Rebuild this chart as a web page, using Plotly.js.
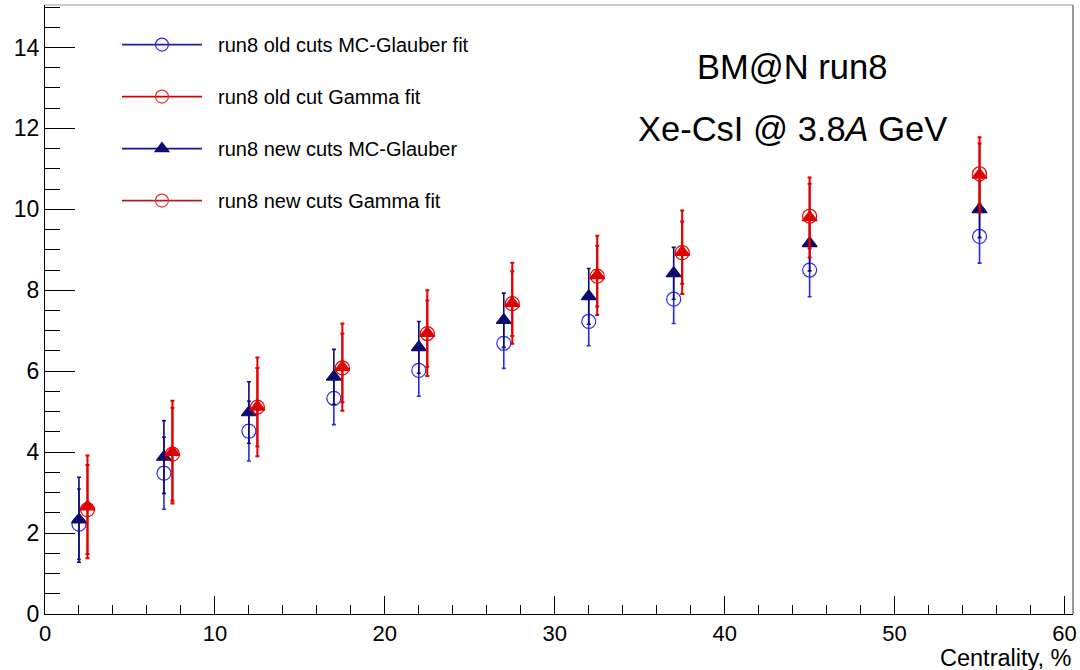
<!DOCTYPE html>
<html>
<head>
<meta charset="utf-8">
<script src="https://cdn.plot.ly/plotly-3.0.1.min.js"></script>
<style>html,body{margin:0;padding:0;background:#fff;}#chart{width:1080px;height:670px;}</style>
</head>
<body>
<div id="chart"></div>
<script>
// Centrality bins
const centralityGlauber = [2, 7, 12, 17, 22, 27, 32, 37, 45, 55];
const centralityGamma   = [2.5, 7.5, 12.5, 17.5, 22.5, 27.5, 32.5, 37.5, 45, 55];

// run8 old cuts MC-Glauber fit
const oldGlauberY   = [2.22, 3.48, 4.52, 5.33, 6.02, 6.69, 7.23, 7.78, 8.50, 9.33];
const oldGlauberErr = [0.87, 0.89, 0.74, 0.65, 0.64, 0.62, 0.60, 0.60, 0.66, 0.66];

// run8 new cuts MC-Glauber
const newGlauberY   = [2.33, 3.88, 4.98, 5.86, 6.59, 7.26, 7.85, 8.42, 9.16, 10.00];
const newGlauberErr = [1.05, 0.90, 0.76, 0.68, 0.64, 0.67, 0.69, 0.64, 0.68, 0.70];

// run8 old cut Gamma fit
const oldGammaY   = [2.58, 3.95, 5.11, 6.08, 6.93, 7.67, 8.35, 8.93, 9.83, 10.88];
const oldGammaErr = [1.10, 1.15, 0.97, 0.85, 0.82, 0.80, 0.75, 0.77, 0.80, 0.75];

// run8 new cuts Gamma fit
const newGammaY   = [2.65, 4.00, 5.12, 6.10, 6.94, 7.68, 8.37, 8.94, 9.80, 10.85];
const newGammaErr = [1.27, 1.27, 1.22, 1.08, 1.06, 1.00, 0.98, 1.03, 0.99, 0.93];

const legendNames = [
  'run8 old cuts MC-Glauber fit',
  'run8 old cut Gamma fit',
  'run8 new cuts MC-Glauber',
  'run8 new cuts Gamma fit'
];

const BLUE = '#2a2ae6', NAVY = '#0c0c6e', RED = '#e00000', DARKRED = '#a82424';
const PAD = '\u00a0\u00a0';

function dataTrace(x, y, err, color, symbol, size, errColor, errThick) {
  return {
    type: 'scatter', mode: 'markers', x: x, y: y, showlegend: false,
    marker: {symbol: symbol, size: size, color: color, line: {color: color, width: 1.2}},
    error_y: {type: 'data', array: err, visible: true, color: errColor, thickness: errThick, width: 2}
  };
}
function legendTrace(name, lineColor, markerColor, symbol, size, group) {
  return {
    type: 'scatter', mode: 'lines+markers', x: [null], y: [null], name: PAD + name,
    legendgroup: group, showlegend: true,
    line: {color: lineColor, width: 1.6},
    marker: {symbol: symbol, size: size, color: markerColor, line: {color: markerColor, width: 1.2}}
  };
}

const traces = [
  dataTrace(centralityGlauber, oldGlauberY, oldGlauberErr, BLUE, 'circle-open', 14, BLUE, 1.6),
  dataTrace(centralityGlauber, newGlauberY, newGlauberErr, NAVY, 'triangle-up', 13, NAVY, 1.6),
  dataTrace(centralityGamma, oldGammaY, oldGammaErr, RED, 'circle-open', 14, RED, 2),
  dataTrace(centralityGamma, newGammaY, newGammaErr, RED, 'triangle-up', 13, RED, 2),
  legendTrace(legendNames[0], '#1e1ea0', BLUE, 'circle-open', 13, 'g1'),
  legendTrace(legendNames[1], '#d00000', '#e03030', 'circle-open', 13, 'g2'),
  legendTrace(legendNames[2], '#14148a', NAVY, 'triangle-up', 12, 'g3'),
  legendTrace(legendNames[3], DARKRED, '#e03030', 'circle-open', 13, 'g4')
];

const FONT = 'Liberation Sans, Arial, Helvetica, sans-serif';

const layout = {
  width: 1080, height: 670,
  margin: {l: 45, r: 7, t: 5, b: 56},
  paper_bgcolor: '#fff', plot_bgcolor: '#fff',
  font: {family: FONT, color: '#000'},
  showlegend: true,
  legend: {
    x: 0.07, y: 0.967, xanchor: 'left', yanchor: 'top',
    bgcolor: 'rgba(0,0,0,0)', borderwidth: 0,
    font: {family: FONT, size: 20, color: '#000'},
    traceorder: 'grouped', tracegroupgap: 23, itemwidth: 80
  },
  xaxis: {
    range: [0, 60.5], tickmode: 'linear', tick0: 0, dtick: 10,
    ticks: 'inside', ticklen: 18, tickcolor: '#000', tickwidth: 1,
    minor: {dtick: 2, ticks: 'inside', ticklen: 9, tickcolor: '#000'},
    showgrid: false, zeroline: false, showline: true, linecolor: '#000', linewidth: 1, mirror: false,
    tickfont: {family: FONT, size: 22, color: '#000'}
  },
  yaxis: {
    range: [0, 15.05], tickmode: 'linear', tick0: 0, dtick: 2,
    ticks: 'inside', ticklen: 30, tickcolor: '#000', tickwidth: 1,
    minor: {dtick: 0.5, ticks: 'inside', ticklen: 15, tickcolor: '#000'},
    showgrid: false, zeroline: false, showline: true, linecolor: '#000', linewidth: 1, mirror: false,
    tickfont: {family: FONT, size: 23, color: '#000'}
  },
  shapes: [
    {type: 'line', xref: 'paper', yref: 'paper', x0: 0, x1: 1, y0: 1, y1: 1, line: {color: '#bdbdbd', width: 1.5}},
    {type: 'line', xref: 'paper', yref: 'paper', x0: 1, x1: 1, y0: 0, y1: 1, line: {color: '#777', width: 1.5}}
  ],
  annotations: [
    {xref: 'paper', yref: 'paper', x: 1.0, y: -0.073, xanchor: 'right', yanchor: 'middle', borderpad: 0,
     text: 'Centrality, %', showarrow: false, font: {family: FONT, size: 23.5, color: '#000'}},
    {xref: 'paper', yref: 'paper', x: 0.727, y: 0.899, xanchor: 'center', yanchor: 'middle',
     text: 'BM@N run8', showarrow: false, font: {family: FONT, size: 34.5, color: '#000'}},
    {xref: 'paper', yref: 'paper', x: 0.727, y: 0.797, xanchor: 'center', yanchor: 'middle',
     text: 'Xe-CsI @ 3.8<i>A</i> GeV', showarrow: false, font: {family: FONT, size: 34.5, color: '#000'}}
  ]
};

Plotly.newPlot('chart', traces, layout, {staticPlot: true, displayModeBar: false});
</script>
</body>
</html>
